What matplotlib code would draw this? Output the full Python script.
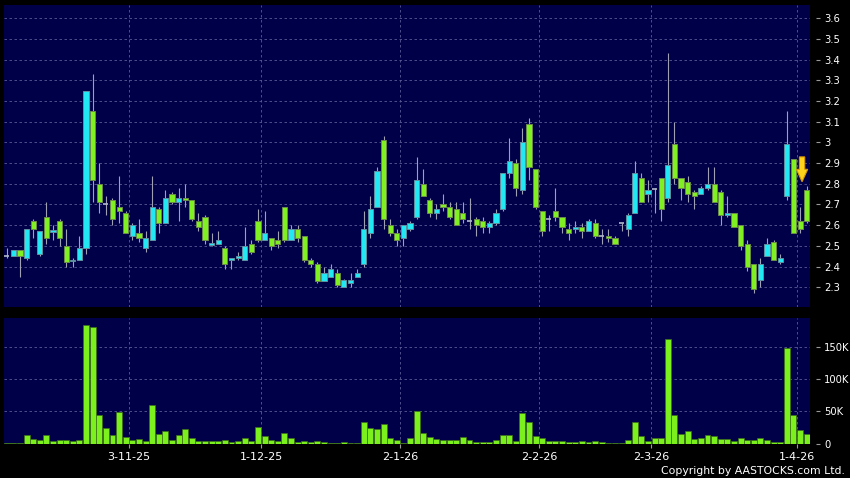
import numpy as np
import matplotlib
matplotlib.use("Agg")
import matplotlib.pyplot as plt
from matplotlib.patches import Rectangle, FancyArrow
from matplotlib.ticker import FuncFormatter

# daily OHLC (oldest first)
opens = [2.45, 2.45, 2.48, 2.44, 2.62, 2.46, 2.64, 2.565, 2.62, 2.50,
         2.425, 2.43, 2.49, 3.15, 2.80, 2.70, 2.72, 2.69, 2.66, 2.55,
         2.56, 2.49, 2.53, 2.68, 2.61, 2.75, 2.71, 2.73, 2.72, 2.62,
         2.64, 2.505, 2.51, 2.49, 2.43, 2.44, 2.43, 2.51, 2.62, 2.53,
         2.54, 2.53, 2.69, 2.53, 2.58, 2.55, 2.43, 2.41, 2.33, 2.35,
         2.37, 2.30, 2.32, 2.35, 2.41, 2.56, 2.69, 3.01, 2.60, 2.56,
         2.54, 2.58, 2.64, 2.80, 2.72, 2.66, 2.70, 2.69, 2.68, 2.66,
         2.62, 2.63, 2.62, 2.59, 2.61, 2.68, 2.85, 2.90, 2.77, 3.09,
         2.87, 2.67, 2.63, 2.67, 2.64, 2.58, 2.58, 2.59, 2.57, 2.61,
         2.55, 2.55, 2.54, 2.61, 2.58, 2.66, 2.83, 2.75, 2.775, 2.83,
         2.73, 2.99, 2.83, 2.81, 2.76, 2.75, 2.78, 2.80, 2.76, 2.65,
         2.66, 2.60, 2.51, 2.41, 2.335, 2.45, 2.52, 2.42, 2.74, 2.92,
         2.62, 2.77]
highs = [2.49, 2.48, 2.48, 2.58, 2.63, 2.57, 2.71, 2.60, 2.63, 2.58,
         2.44, 2.55, 3.25, 3.33, 2.90, 2.74, 2.73, 2.84, 2.67, 2.61,
         2.63, 2.57, 2.84, 2.69, 2.77, 2.76, 2.78, 2.80, 2.72, 2.66,
         2.65, 2.56, 2.57, 2.50, 2.44, 2.47, 2.59, 2.53, 2.68, 2.67,
         2.54, 2.57, 2.69, 2.60, 2.60, 2.55, 2.44, 2.42, 2.40, 2.41,
         2.39, 2.34, 2.37, 2.39, 2.67, 2.74, 2.88, 3.03, 2.63, 2.58,
         2.60, 2.62, 2.93, 2.87, 2.73, 2.70, 2.75, 2.71, 2.71, 2.71,
         2.73, 2.64, 2.64, 2.62, 2.68, 2.85, 3.02, 2.92, 3.07, 3.12,
         2.87, 2.67, 2.65, 2.78, 2.64, 2.61, 2.62, 2.61, 2.63, 2.63,
         2.58, 2.58, 2.55, 2.61, 2.66, 2.91, 2.85, 2.82, 2.78, 2.83,
         3.43, 3.10, 2.83, 2.84, 2.77, 2.79, 2.88, 2.88, 2.77, 2.74,
         2.66, 2.60, 2.53, 2.41, 2.44, 2.54, 2.53, 2.46, 3.15, 2.92,
         2.69, 2.79]
lows = [2.44, 2.45, 2.35, 2.43, 2.54, 2.45, 2.51, 2.53, 2.50, 2.40,
        2.40, 2.43, 2.46, 2.71, 2.66, 2.65, 2.60, 2.61, 2.56, 2.53,
        2.52, 2.47, 2.53, 2.56, 2.61, 2.70, 2.62, 2.69, 2.62, 2.57,
        2.51, 2.50, 2.51, 2.39, 2.39, 2.43, 2.43, 2.46, 2.52, 2.53,
        2.48, 2.49, 2.52, 2.53, 2.52, 2.42, 2.40, 2.32, 2.33, 2.35,
        2.30, 2.30, 2.30, 2.35, 2.40, 2.54, 2.69, 2.58, 2.55, 2.50,
        2.50, 2.57, 2.63, 2.74, 2.64, 2.63, 2.67, 2.63, 2.60, 2.61,
        2.58, 2.55, 2.56, 2.56, 2.60, 2.67, 2.83, 2.74, 2.75, 2.82,
        2.68, 2.55, 2.57, 2.62, 2.56, 2.53, 2.56, 2.54, 2.57, 2.54,
        2.51, 2.52, 2.51, 2.57, 2.55, 2.66, 2.71, 2.71, 2.66, 2.62,
        2.71, 2.80, 2.72, 2.71, 2.68, 2.75, 2.77, 2.71, 2.60, 2.64,
        2.59, 2.48, 2.38, 2.27, 2.30, 2.45, 2.43, 2.41, 2.72, 2.56,
        2.56, 2.61]
closes = [2.45, 2.48, 2.45, 2.58, 2.58, 2.57, 2.54, 2.575, 2.54, 2.42,
          2.43, 2.49, 3.25, 2.82, 2.71, 2.70, 2.63, 2.67, 2.56, 2.60,
          2.54, 2.54, 2.69, 2.61, 2.73, 2.71, 2.73, 2.72, 2.63, 2.59,
          2.53, 2.515, 2.53, 2.41, 2.44, 2.45, 2.50, 2.47, 2.53, 2.56,
          2.50, 2.51, 2.53, 2.58, 2.54, 2.43, 2.41, 2.33, 2.37, 2.39,
          2.31, 2.335, 2.335, 2.37, 2.58, 2.68, 2.86, 2.63, 2.56, 2.53,
          2.60, 2.61, 2.82, 2.74, 2.66, 2.68, 2.69, 2.64, 2.60, 2.63,
          2.62, 2.60, 2.59, 2.61, 2.66, 2.85, 2.91, 2.78, 3.00, 2.88,
          2.69, 2.57, 2.63, 2.64, 2.59, 2.56, 2.59, 2.57, 2.62, 2.55,
          2.55, 2.54, 2.51, 2.61, 2.65, 2.85, 2.71, 2.77, 2.775, 2.68,
          2.89, 2.83, 2.78, 2.75, 2.74, 2.78, 2.80, 2.71, 2.65, 2.66,
          2.59, 2.50, 2.40, 2.29, 2.41, 2.51, 2.43, 2.44, 2.99, 2.56,
          2.58, 2.62]
# volume in thousands of shares
volumes_k = [1, 0.5, 0.5, 14, 7, 6, 13, 4, 5, 5,
             4, 6, 184, 182, 45, 24, 14, 49, 10, 6,
             7, 4, 60, 15, 19, 6, 13, 22, 8, 4,
             4, 3.5, 3.5, 5, 3, 4, 9, 4, 26, 11,
             5, 3.5, 17, 8, 2, 3.5, 3, 3.5, 3, 1,
             1, 2, 1, 1, 34, 24, 23, 30, 9, 5,
             1, 9, 51, 16, 10, 7, 5, 5, 5, 10,
             6, 2, 3, 3, 5, 14, 14, 3.5, 48, 34,
             11, 8, 3.5, 4, 3.5, 2, 2, 3.5, 2, 4,
             2, 0.5, 0.5, 0.5, 5, 33, 12, 4, 8, 8,
             162, 45, 15, 19, 7, 8, 14, 11, 7, 7,
             4, 8, 5, 5, 8, 6, 3, 2, 148, 45,
             21, 15]

# x-axis date labels and the trading-day index they fall on
date_idx = [19, 39, 60, 81, 98, 120]
date_labels = ['3-11-25', '1-12-25', '2-1-26', '2-2-26', '2-3-26', '1-4-26']

BG = '#000048'
GRID = '#5a5a96'
CYAN = '#22e8f4'
GREEN = '#80f022'
WICK = '#a0a0b4'

n = len(closes)
x = np.arange(n)

fig = plt.figure(figsize=(8.5, 4.78), dpi=100, facecolor='black')
ax = fig.add_axes([4/850, 1-306.7/478, 806/850, (306.7-5)/478])
axv = fig.add_axes([4/850, 1-443.5/478, 806/850, (443.5-318.3)/478])

for a in (ax, axv):
    a.set_facecolor(BG)
    a.set_xlim(-0.41, 121.5)
    for s in a.spines.values():
        s.set_visible(False)
    a.spines['right'].set_position(('outward', 4))
    a.yaxis.tick_right()
    a.tick_params(axis='y', colors='#9a9a9a', length=3, width=0.8,
                  labelcolor='white', labelsize=7.2, pad=3)
    for xi in date_idx:
        a.axvline(xi - 0.5, color=GRID, lw=0.6, ls=(0, (3, 3)), zorder=0)

# price candles
ax.set_ylim(2.206, 3.664)
price_ticks = np.round(np.arange(2.3, 3.65, 0.1), 1)
ax.set_yticks(price_ticks)
ax.yaxis.set_major_formatter(FuncFormatter(lambda v, p: f'{v:g}'))
for t in price_ticks:
    ax.axhline(t, color=GRID, lw=0.6, ls=(0, (3, 3)), zorder=0)
ax.set_xticks([])

bw = 0.78
ax.vlines(x, lows, highs, color=WICK, lw=0.8, zorder=2)
for i in range(n):
    o, c = opens[i], closes[i]
    if abs(c - o) < 1e-9:
        ax.hlines(o, i - bw/2, i + bw/2, color='#b0b8c8', lw=1.2, zorder=3)
        continue
    col = CYAN if c > o else GREEN
    edge = '#5f8fa0' if c > o else '#6a8a4a'
    lo = min(o, c)
    h = max(abs(c - o), 0.006)
    ax.add_patch(Rectangle((i - bw/2, lo), bw, h, facecolor=col,
                           edgecolor=edge, lw=0.7, zorder=3))

# yellow marker arrow above the latest session
tip = highs[-1] + 0.02
ax.add_patch(FancyArrow(n - 1.7, tip + 0.12, 0, -0.12, width=0.8,
                        head_width=1.7, head_length=0.06,
                        length_includes_head=True, facecolor='#ffd21c',
                        edgecolor='#d89a00', lw=0.8, zorder=5))

# volume
axv.set_ylim(0, 195)
vol_ticks = [0, 50, 100, 150]
axv.set_yticks(vol_ticks)
axv.yaxis.set_major_formatter(FuncFormatter(lambda v, p: '0' if v == 0 else f'{v:g}K'))
for t in vol_ticks[1:]:
    axv.axhline(t, color=GRID, lw=0.6, ls=(0, (3, 3)), zorder=0)
axv.bar(x, volumes_k, width=0.9, color='#7cf01c', edgecolor='#3c6e18',
        lw=0.5, zorder=2)
axv.set_xticks([i - 0.5 for i in date_idx])
axv.set_xticklabels(date_labels)
axv.tick_params(axis='x', colors='#9a9a9a', length=3, width=0.8,
                labelcolor='white', labelsize=8, pad=3)

fig.text(845/850, 1-471/478, 'Copyright by AASTOCKS.com Ltd.', color='white',
         fontsize=7.8, ha='right', va='center')

fig.savefig('out.png', dpi=100, facecolor='black')
